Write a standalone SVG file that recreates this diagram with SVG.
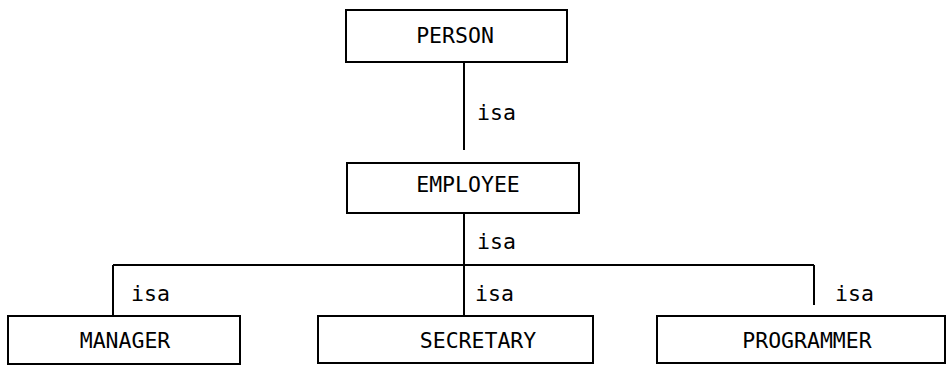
<svg xmlns="http://www.w3.org/2000/svg" width="950" height="367" viewBox="0 0 950 367">
<style>
.box{fill:#fff;stroke:#000;stroke-width:2}
.lbl{font-family:"DejaVu Sans Mono","Liberation Mono",monospace;font-size:21.5px;fill:#000;text-anchor:middle}
.isa{font-family:"DejaVu Sans Mono","Liberation Mono",monospace;font-size:21.5px;fill:#000}
.con{fill:none;stroke:#000;stroke-width:2}
</style>
<rect width="950" height="367" fill="#fff"/>
<g id="connectors">
<path class="con" d="M464 62 V150"/>
<path class="con" d="M464 213 V265"/>
<path class="con" d="M113 265 H814"/>
<path class="con" d="M113 265 V316"/>
<path class="con" d="M464 265 V316"/>
<path class="con" d="M814 265 V305"/>
<text class="isa" x="477" y="120">isa</text>
<text class="isa" x="477" y="249">isa</text>
<text class="isa" x="131" y="301">isa</text>
<text class="isa" x="475" y="301">isa</text>
<text class="isa" x="835" y="301">isa</text>
</g>
<g id="person">
<rect class="box" x="346" y="10" width="221" height="52"/>
<text class="lbl" x="455" y="43">PERSON</text>
</g>
<g id="employee">
<rect class="box" x="347" y="163" width="232" height="50"/>
<text class="lbl" x="468" y="192">EMPLOYEE</text>
</g>
<g id="manager">
<rect class="box" x="8" y="316" width="232" height="48"/>
<text class="lbl" x="125" y="348">MANAGER</text>
</g>
<g id="secretary">
<rect class="box" x="318" y="316" width="275" height="47"/>
<text class="lbl" x="478" y="348">SECRETARY</text>
</g>
<g id="programmer">
<rect class="box" x="657" y="316" width="288" height="47"/>
<text class="lbl" x="807" y="348">PROGRAMMER</text>
</g>
</svg>
